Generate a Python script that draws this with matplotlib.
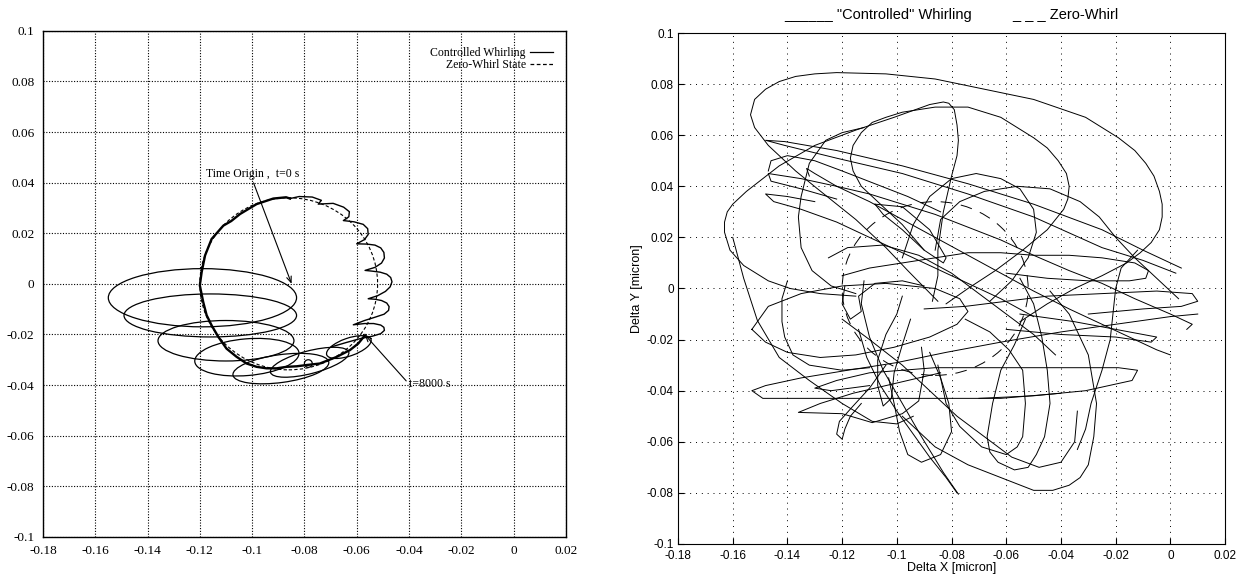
import numpy as np
import matplotlib.pyplot as plt
from matplotlib.patches import Ellipse
from matplotlib.lines import Line2D

'''Data read off the two whirl plots'''

x_ticks = [-0.18, -0.16, -0.14, -0.12, -0.1, -0.08, -0.06, -0.04, -0.02, 0, 0.02]
y_ticks = [-0.1, -0.08, -0.06, -0.04, -0.02, 0, 0.02, 0.04, 0.06, 0.08, 0.1]

# zero-whirl orbit (both panels)
zw_center = (-0.086, 0.0)
zw_radius = 0.034

# left panel: decaying loops right after t=0
loop_cx = [-0.119, -0.116, -0.110, -0.102, -0.089, -0.078, -0.063, -0.0785]
loop_cy = [-0.0055, -0.0125, -0.0225, -0.0290, -0.0335, -0.0310, -0.0250, -0.0315]
loop_w = [0.072, 0.066, 0.052, 0.040, 0.037, 0.031, 0.018, 0.003]
loop_h = [0.023, 0.017, 0.016, 0.0145, 0.011, 0.009, 0.007, 0.003]
loop_tilt = [0, 0, 0, 5, 8, 15, 20, 0]

# left panel: orbit that settles on the zero-whirl circle (coils on the right side)
orbit_right = [(-0.0696, -0.0249), (-0.0640, -0.0232), (-0.0588, -0.0217), (-0.0540, -0.0207),
               (-0.0508, -0.0197), (-0.0494, -0.0184), (-0.0496, -0.0172), (-0.0508, -0.0163),
               (-0.0535, -0.0157), (-0.0570, -0.0157), (-0.0613, -0.0162), (-0.0570, -0.0145),
               (-0.0530, -0.0132), (-0.0495, -0.0120), (-0.0478, -0.0105), (-0.0476, -0.0090),
               (-0.0485, -0.0076), (-0.0505, -0.0066), (-0.0530, -0.0061), (-0.0556, -0.0059),
               (-0.0520, -0.0047), (-0.0490, -0.0030), (-0.0472, -0.0012), (-0.0465, 0.0008),
               (-0.0470, 0.0025), (-0.0485, 0.0038), (-0.0510, 0.0046), (-0.0540, 0.0050),
               (-0.0568, 0.0053), (-0.0530, 0.0065), (-0.0505, 0.0082), (-0.0494, 0.0102),
               (-0.0496, 0.0124), (-0.0508, 0.0142), (-0.0530, 0.0153), (-0.0560, 0.0157),
               (-0.0600, 0.0158), (-0.0570, 0.0175), (-0.0556, 0.0195), (-0.0558, 0.0218),
               (-0.0575, 0.0235), (-0.0610, 0.0245), (-0.0651, 0.0250), (-0.0630, 0.0265),
               (-0.0628, 0.0285), (-0.0650, 0.0303), (-0.0690, 0.0318), (-0.0747, 0.0315),
               (-0.0735, 0.0330), (-0.0770, 0.0343), (-0.0820, 0.0345), (-0.0855, 0.0337)]
orbit_left = [(-0.0855, 0.0337), (-0.0870, 0.0342), (-0.0919, 0.0337), (-0.0983, 0.0315),
              (-0.1046, 0.0276), (-0.1080, 0.0248), (-0.1110, 0.0230), (-0.1155, 0.0177),
              (-0.1180, 0.0112), (-0.1193, 0.0046), (-0.1200, -0.0006), (-0.1187, -0.0072),
              (-0.1174, -0.0124), (-0.1155, -0.0164), (-0.1129, -0.0210), (-0.1098, -0.0256),
              (-0.1060, -0.0288), (-0.1021, -0.0315), (-0.0983, -0.0328), (-0.0945, -0.0334),
              (-0.0906, -0.0334), (-0.0868, -0.0328), (-0.0830, -0.0326), (-0.0792, -0.0321),
              (-0.0741, -0.0315), (-0.0677, -0.0289), (-0.0626, -0.0262), (-0.0594, -0.0236),
              (-0.0568, -0.0203)]

t0_tip = (-0.0849, 0.0)
t0_text = (-0.1175, 0.041)
tend_tip = (-0.0569, -0.0201)
tend_text = (-0.0400, -0.0396)

# right panel: measured trajectory, one list per stroke
r_top_loop = [(-0.085, -0.005), (-0.096, 0.007), (-0.104, 0.016), (-0.115, 0.027), (-0.129, 0.039),
              (-0.137, 0.046), (-0.147, 0.056), (-0.152, 0.063), (-0.1535, 0.068), (-0.152, 0.074),
              (-0.148, 0.078), (-0.143, 0.081), (-0.137, 0.083), (-0.130, 0.084), (-0.122, 0.0845),
              (-0.104, 0.084), (-0.086, 0.082), (-0.068, 0.078), (-0.050, 0.074), (-0.031, 0.067),
              (-0.019, 0.059), (-0.013, 0.054), (-0.009, 0.049), (-0.006, 0.044), (-0.004, 0.038),
              (-0.003, 0.033), (-0.003, 0.028), (-0.004, 0.023), (-0.007, 0.018), (-0.011, 0.014),
              (-0.016, 0.010), (-0.025, 0.005), (-0.035, 0.000), (-0.045, -0.006), (-0.055, -0.013)]
r_mid_loop = [(-0.090, 0.015), (-0.098, 0.025), (-0.108, 0.035), (-0.113, 0.040), (-0.116, 0.046),
              (-0.117, 0.051), (-0.116, 0.056), (-0.113, 0.061), (-0.109, 0.065), (-0.104, 0.067),
              (-0.098, 0.069), (-0.086, 0.071), (-0.074, 0.071), (-0.062, 0.067), (-0.050, 0.059),
              (-0.045, 0.055), (-0.041, 0.050), (-0.038, 0.045), (-0.037, 0.040), (-0.0375, 0.035),
              (-0.039, 0.031), (-0.045, 0.023), (-0.054, 0.015), (-0.064, 0.007), (-0.074, 0.000),
              (-0.082, -0.006)]
r_tall_loop = [(-0.087, -0.005), (-0.085, 0.005), (-0.085, 0.015), (-0.083, 0.030), (-0.080, 0.044),
               (-0.078, 0.052), (-0.0775, 0.058), (-0.078, 0.064), (-0.079, 0.070), (-0.081, 0.0725),
               (-0.083, 0.073), (-0.088, 0.072), (-0.101, 0.067), (-0.115, 0.062), (-0.130, 0.056),
               (-0.143, 0.048), (-0.155, 0.038), (-0.160, 0.033), (-0.162, 0.030), (-0.163, 0.026),
               (-0.163, 0.022), (-0.161, 0.015), (-0.156, 0.009), (-0.147, 0.003), (-0.139, 0.000),
               (-0.128, -0.002), (-0.115, -0.003)]
r_thin_diag = [(0.002, 0.006), (-0.010, 0.011), (-0.025, 0.016), (-0.050, 0.028), (-0.074, 0.037),
               (-0.098, 0.045), (-0.122, 0.051), (-0.141, 0.056), (-0.148, 0.058), (-0.141, 0.0575),
               (-0.122, 0.054), (-0.098, 0.048), (-0.074, 0.041), (-0.050, 0.033), (-0.025, 0.023),
               (-0.010, 0.015), (0.004, 0.008)]
r_diag_a = [(0.006, -0.016), (0.008, -0.014), (0.000, -0.010), (-0.013, -0.004), (-0.025, 0.002),
            (-0.037, 0.007), (-0.050, 0.013), (-0.062, 0.019), (-0.074, 0.024), (-0.086, 0.029),
            (-0.098, 0.033), (-0.110, 0.037), (-0.122, 0.040), (-0.135, 0.043), (-0.147, 0.045),
            (-0.146, 0.042), (-0.135, 0.039), (-0.122, 0.035)]
r_diag_b = [(-0.130, 0.034), (-0.140, 0.036), (-0.148, 0.037), (-0.145, 0.034), (-0.135, 0.031),
            (-0.122, 0.026), (-0.110, 0.020), (-0.098, 0.014), (-0.086, 0.008), (-0.074, 0.002),
            (-0.062, -0.004), (-0.050, -0.011)]
r_diag_c = [(-0.132, 0.044), (-0.133, 0.047), (-0.130, 0.045), (-0.122, 0.040), (-0.110, 0.034),
            (-0.098, 0.027), (-0.086, 0.020), (-0.074, 0.013), (-0.062, 0.006), (-0.050, -0.001),
            (-0.037, -0.008), (-0.025, -0.014), (-0.013, -0.020), (-0.005, -0.024), (0.000, -0.026)]
r_ul_loop = [(-0.147, 0.046), (-0.146, 0.050), (-0.140, 0.052), (-0.130, 0.050), (-0.120, 0.046),
             (-0.108, 0.041), (-0.096, 0.036), (-0.084, 0.030)]
r_left_arc = [(-0.112, 0.063), (-0.120, 0.061), (-0.126, 0.058), (-0.132, 0.049), (-0.135, 0.036),
              (-0.136, 0.028), (-0.135, 0.016), (-0.131, 0.007), (-0.124, 0.001), (-0.115, -0.002)]
r_ring_a = [(-0.098, 0.012), (-0.094, 0.025), (-0.088, 0.036), (-0.080, 0.043), (-0.071, 0.045),
            (-0.062, 0.043), (-0.055, 0.039), (-0.050, 0.031), (-0.049, 0.022), (-0.052, 0.012),
            (-0.058, 0.003), (-0.066, -0.005)]
r_ring_b = [(-0.086, 0.015), (-0.084, 0.027), (-0.077, 0.034), (-0.068, 0.038), (-0.056, 0.040),
            (-0.044, 0.039), (-0.033, 0.034), (-0.026, 0.028), (-0.020, 0.020), (-0.013, 0.012),
            (-0.005, 0.004), (0.003, -0.004)]
r_flat_top = [(-0.120, 0.005), (-0.110, 0.008), (-0.098, 0.010), (-0.086, 0.012), (-0.074, 0.014),
              (-0.062, 0.014), (-0.050, 0.013), (-0.037, 0.013), (-0.025, 0.012), (-0.013, 0.010),
              (-0.008, 0.007), (-0.009, 0.004), (-0.015, 0.003), (-0.030, 0.003), (-0.045, 0.004),
              (-0.060, 0.006)]
r_center_a = [(-0.125, 0.012), (-0.118, 0.016), (-0.105, 0.017), (-0.092, 0.013), (-0.080, 0.006),
              (-0.070, -0.002), (-0.060, -0.010), (-0.050, -0.018), (-0.042, -0.026)]
r_small_diag = [(-0.108, 0.033), (-0.098, 0.032), (-0.088, 0.023), (-0.082, 0.012), (-0.083, 0.010),
                (-0.090, 0.015), (-0.098, 0.023), (-0.105, 0.029), (-0.108, 0.033)]
r_low_ellipse = [(-0.153, -0.016), (-0.147, -0.007), (-0.135, -0.002), (-0.120, 0.001), (-0.104, 0.002),
                 (-0.086, 0.000), (-0.077, -0.004), (-0.074, -0.009), (-0.078, -0.014), (-0.088, -0.019),
                 (-0.101, -0.023), (-0.115, -0.026), (-0.128, -0.027), (-0.140, -0.025), (-0.148, -0.021),
                 (-0.153, -0.016)]
r_hook = [(-0.140, 0.003), (-0.142, -0.004), (-0.142, -0.013), (-0.141, -0.019), (-0.138, -0.026),
          (-0.132, -0.030), (-0.120, -0.032), (-0.110, -0.031)]
r_flat_a = [(-0.040, -0.041), (-0.062, -0.043), (-0.086, -0.043), (-0.110, -0.043), (-0.135, -0.043),
            (-0.149, -0.043), (-0.153, -0.040), (-0.148, -0.038), (-0.135, -0.035), (-0.118, -0.032),
            (-0.100, -0.029), (-0.082, -0.025), (-0.062, -0.021), (-0.040, -0.017), (-0.020, -0.014),
            (0.000, -0.011), (0.010, -0.010)]
r_flat_b = [(-0.110, -0.038), (-0.124, -0.040), (-0.130, -0.039), (-0.122, -0.036), (-0.110, -0.033),
            (-0.086, -0.031), (-0.062, -0.031), (-0.037, -0.031), (-0.019, -0.031), (-0.012, -0.032),
            (-0.014, -0.036), (-0.031, -0.040), (-0.050, -0.042), (-0.070, -0.043)]
r_bl_loop = [(-0.091, -0.023), (-0.090, -0.032), (-0.092, -0.044), (-0.098, -0.049), (-0.109, -0.0525),
             (-0.120, -0.049), (-0.136, -0.0485), (-0.128, -0.045), (-0.116, -0.041), (-0.100, -0.037),
             (-0.084, -0.033)]
r_tail = [(-0.104, -0.030), (-0.110, -0.039), (-0.116, -0.046), (-0.121, -0.052), (-0.122, -0.057),
          (-0.120, -0.059), (-0.119, -0.055), (-0.117, -0.050), (-0.113, -0.045)]
r_bottom_big = [(-0.098, -0.050), (-0.086, -0.062), (-0.074, -0.069), (-0.062, -0.074), (-0.050, -0.079),
                (-0.043, -0.079), (-0.037, -0.077), (-0.033, -0.074), (-0.030, -0.069), (-0.028, -0.058),
                (-0.027, -0.045), (-0.030, -0.026), (-0.037, -0.010), (-0.044, -0.001)]
r_bottom_tall = [(-0.053, -0.012), (-0.057, -0.022), (-0.062, -0.032), (-0.065, -0.045), (-0.067, -0.058),
                 (-0.066, -0.064), (-0.063, -0.068), (-0.057, -0.071), (-0.052, -0.070), (-0.049, -0.065),
                 (-0.046, -0.058), (-0.044, -0.045), (-0.045, -0.032), (-0.047, -0.019), (-0.050, -0.006),
                 (-0.055, 0.004)]
r_bottom_mid = [(-0.085, -0.030), (-0.082, -0.045), (-0.077, -0.054), (-0.069, -0.062), (-0.060, -0.065),
                (-0.056, -0.062), (-0.054, -0.058), (-0.053, -0.045), (-0.054, -0.032), (-0.059, -0.024),
                (-0.066, -0.017), (-0.075, -0.012)]
r_bottom_left = [(-0.103, -0.035), (-0.101, -0.045), (-0.099, -0.056), (-0.096, -0.065), (-0.091, -0.068),
                 (-0.084, -0.065), (-0.080, -0.056), (-0.081, -0.045), (-0.084, -0.035), (-0.088, -0.025)]
r_lower_sweep = [(-0.120, -0.012), (-0.110, -0.020), (-0.098, -0.030), (-0.088, -0.040), (-0.078, -0.050),
                 (-0.068, -0.058), (-0.058, -0.066), (-0.048, -0.070), (-0.040, -0.068), (-0.035, -0.060),
                 (-0.034, -0.048)]
r_to_end_a = [(-0.112, 0.003), (-0.113, -0.006), (-0.110, -0.019), (-0.105, -0.032), (-0.098, -0.045),
              (-0.091, -0.058), (-0.083, -0.072), (-0.0775, -0.0805)]
r_to_end_b = [(-0.078, -0.080), (-0.082, -0.074), (-0.088, -0.066), (-0.094, -0.057), (-0.100, -0.048),
              (-0.106, -0.038), (-0.111, -0.027), (-0.114, -0.016)]
r_sweep = [(-0.160, 0.020), (-0.158, 0.012), (-0.156, 0.004), (-0.151, -0.0125), (-0.143, -0.027),
           (-0.132, -0.036), (-0.120, -0.045), (-0.109, -0.052), (-0.100, -0.053), (-0.094, -0.050)]
r_right_a = [(-0.090, -0.008), (-0.075, -0.007), (-0.060, -0.005), (-0.045, -0.003), (-0.025, -0.002),
             (-0.005, -0.001), (0.008, -0.002), (0.010, -0.005), (0.004, -0.007), (-0.010, -0.008),
             (-0.030, -0.010)]
r_right_b = [(-0.060, -0.016), (-0.040, -0.018), (-0.020, -0.019), (-0.007, -0.021), (-0.005, -0.019),
             (-0.015, -0.017), (-0.035, -0.013), (-0.055, -0.010)]
r_knot_a = [(-0.119, 0.001), (-0.120, -0.006), (-0.117, -0.012), (-0.113, -0.009), (-0.114, -0.003),
            (-0.108, 0.002), (-0.098, 0.003), (-0.090, 0.001)]
r_knot_b = [(-0.098, -0.003), (-0.100, -0.010), (-0.104, -0.018), (-0.107, -0.028), (-0.107, -0.038),
            (-0.105, -0.046), (-0.102, -0.043), (-0.101, -0.033), (-0.098, -0.022), (-0.095, -0.012)]
r_right_drop = [(-0.012, 0.015), (-0.018, 0.008), (-0.020, 0.000), (-0.021, -0.010), (-0.022, -0.020),
                (-0.025, -0.032), (-0.029, -0.045), (-0.031, -0.055), (-0.034, -0.063)]

right_strokes = [r_top_loop, r_mid_loop, r_tall_loop, r_thin_diag, r_diag_a, r_diag_b, r_diag_c,
                 r_ul_loop, r_left_arc, r_ring_a, r_ring_b, r_flat_top, r_center_a, r_small_diag,
                 r_low_ellipse, r_hook, r_flat_a, r_flat_b, r_bl_loop, r_tail, r_bottom_big,
                 r_bottom_tall, r_bottom_mid, r_bottom_left, r_lower_sweep, r_to_end_a, r_to_end_b,
                 r_sweep, r_right_a, r_right_b, r_knot_a, r_knot_b, r_right_drop]


def tick_text(v):
    return '{:g}'.format(round(v, 2) + 0.0)


fig = plt.figure(figsize=(12.45, 5.81), dpi=100)

'''Left panel'''
ax1 = fig.add_axes([0.0345, 0.076, 0.420, 0.871])
serif = 'Liberation Serif'

for cx, cy, w, h, a in zip(loop_cx, loop_cy, loop_w, loop_h, loop_tilt):
    ax1.add_patch(Ellipse((cx, cy), w, h, angle=a, fill=False, color='k', lw=0.9))

ox, oy = zip(*orbit_right)
ax1.plot(ox, oy, color='k', lw=1.0)
ox, oy = zip(*orbit_left)
ax1.plot(ox, oy, color='k', lw=1.7)
ax1.add_patch(Ellipse(zw_center, 2 * zw_radius, 2 * zw_radius, fill=False, color='k', lw=0.8,
                      ls=(0, (3, 2))))

ax1.annotate('Time Origin ,  t=0 s', xy=t0_tip, xytext=t0_text, fontsize=8.5, family=serif,
             va='bottom', ha='left',
             arrowprops=dict(arrowstyle='->,head_length=0.5,head_width=0.2', color='k', lw=0.8,
                             relpos=(0.49, 0.1), shrinkA=0, shrinkB=0))
ax1.annotate('t=8000 s', xy=tend_tip, xytext=tend_text, fontsize=8.5, family=serif,
             va='center', ha='left',
             arrowprops=dict(arrowstyle='->,head_length=0.5,head_width=0.2', color='k', lw=0.8,
                             relpos=(0, 0.5), shrinkA=0, shrinkB=0))

handles = [Line2D([], [], color='k', lw=0.9), Line2D([], [], color='k', lw=0.9, ls=(0, (3, 2)))]
ax1.legend(handles, ['Controlled Whirling', 'Zero-Whirl State'], loc='upper right',
           bbox_to_anchor=(0.975, 0.968), markerfirst=False, frameon=False, handlelength=1.9,
           handletextpad=0.4, labelspacing=0.0, borderpad=0, borderaxespad=0,
           prop={'family': serif, 'size': 8.5})

ax1.set_xlim(-0.18, 0.02)
ax1.set_ylim(-0.1, 0.1)
ax1.set_xticks(x_ticks)
ax1.set_yticks(y_ticks)
ax1.set_xticklabels([tick_text(v) for v in x_ticks], family=serif, fontsize=9.5)
ax1.set_yticklabels([tick_text(v) for v in y_ticks], family=serif, fontsize=9.5)
ax1.tick_params(length=0, pad=6)
ax1.grid(True, color='k', lw=0.8, ls=(0, (1, 1.5)))
for s in ax1.spines.values():
    s.set_linewidth(1.0)

'''Right panel'''
ax2 = fig.add_axes([0.5446, 0.0637, 0.4394, 0.8795])
sans = 'Liberation Sans'

for stroke in right_strokes:
    sx, sy = zip(*stroke)
    ax2.plot(sx, sy, color='k', lw=0.7)
ax2.add_patch(Ellipse(zw_center, 2 * zw_radius, 2 * zw_radius, fill=False, color='k', lw=0.7,
                      ls=(0, (12, 9))))

ax2.set_xlim(-0.18, 0.02)
ax2.set_ylim(-0.1, 0.1)
ax2.set_xticks(x_ticks)
ax2.set_yticks(y_ticks)
ax2.set_xticklabels([tick_text(v) for v in x_ticks], family=sans, fontsize=8.5)
ax2.set_yticklabels([tick_text(v) for v in y_ticks], family=sans, fontsize=8.5)
ax2.tick_params(direction='in', length=4, width=0.8, pad=2)
ax2.tick_params(axis='x', pad=4)
ax2.tick_params(axis='y', pad=3)
ax2.grid(True, color='k', lw=0.7, ls=(0, (1, 5)))
ax2.set_xlabel('Delta X [micron]', family=sans, fontsize=9, labelpad=0)
ax2.set_ylabel('Delta Y [micron]', family=sans, fontsize=9, labelpad=3)
ax2.set_title('______ "Controlled" Whirling          _ _ _ Zero-Whirl', family=sans,
              fontsize=10.5, pad=10)

plt.savefig('out.png', dpi=100)
